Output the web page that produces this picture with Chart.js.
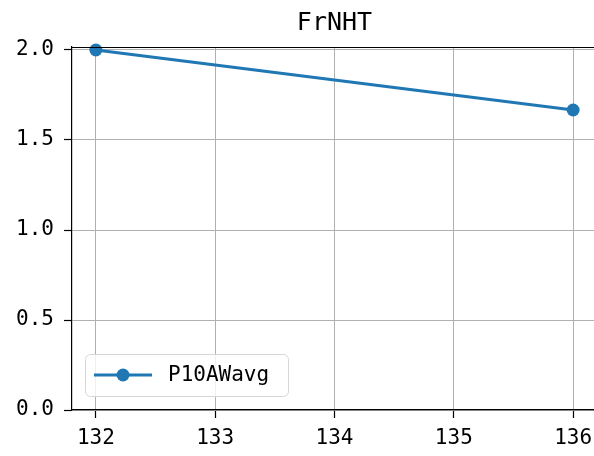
<!DOCTYPE html>
<html>
<head>
<meta charset="utf-8">
<script src="https://cdn.jsdelivr.net/npm/chart.js@4"></script>
<style>
  html, body { margin: 0; padding: 0; background: #fff; overflow: hidden; }
  canvas { display: block; }
</style>
</head>
<body>
<canvas id="chart" width="597" height="456"></canvas>
<script>
// --- data ---
const TITLE = 'FrNHT';
const SERIES_LABEL = 'P10AWavg';
const X_VALUES = [132, 136];
const Y_VALUES = [2.0, 5 / 3];
const X_TICKS = [132, 133, 134, 135, 136];
const Y_TICKS = [0, 0.5, 1.0, 1.5, 2.0];

const FONT = '"DejaVu Sans Mono", "Liberation Mono", monospace';
const LINE_COLOR = '#1f77b4';
const GRID_COLOR = '#b0b0b0';

// title centred over the plot area, plus the top spine
const framePlugin = {
  id: 'frame',
  afterDraw(chart) {
    const { ctx, chartArea: a } = chart;
    ctx.save();
    ctx.strokeStyle = '#000';
    ctx.lineWidth = 1.2;
    ctx.beginPath();
    ctx.moveTo(a.left, a.top + 0.5);
    ctx.lineTo(a.right, a.top + 0.5);
    ctx.stroke();

    ctx.fillStyle = '#000';
    ctx.font = '25px ' + FONT;
    ctx.textAlign = 'center';
    ctx.textBaseline = 'alphabetic';
    ctx.fillText(TITLE, (a.left + a.right) / 2, a.top - 17);
    ctx.restore();
  }
};

// legend box in the lower-left corner of the axes
const legendPlugin = {
  id: 'boxLegend',
  afterDraw(chart) {
    const { ctx, chartArea: a } = chart;
    const ds = chart.data.datasets[0];
    const x = a.left + 13, y = a.bottom - 56, w = 203, h = 42, r = 5;
    ctx.save();
    ctx.fillStyle = 'rgba(255,255,255,0.8)';
    ctx.strokeStyle = '#d6d6d6';
    ctx.lineWidth = 1;
    ctx.beginPath();
    ctx.roundRect(x + 0.5, y + 0.5, w, h, r);
    ctx.fill();
    ctx.stroke();

    const cy = y + h / 2;
    ctx.strokeStyle = ds.borderColor;
    ctx.lineWidth = ds.borderWidth;
    ctx.beginPath();
    ctx.moveTo(x + 9, cy);
    ctx.lineTo(x + 67, cy);
    ctx.stroke();
    ctx.fillStyle = ds.pointBackgroundColor;
    ctx.beginPath();
    ctx.arc(x + 38, cy, ds.pointRadius, 0, Math.PI * 2);
    ctx.fill();

    ctx.fillStyle = '#000';
    ctx.font = '21px ' + FONT;
    ctx.textAlign = 'left';
    ctx.textBaseline = 'middle';
    ctx.fillText(ds.label, x + 83, cy + 1);
    ctx.restore();
  }
};

new Chart(document.getElementById('chart'), {
  type: 'line',
  data: {
    datasets: [{
      label: SERIES_LABEL,
      data: X_VALUES.map((x, i) => ({ x, y: Y_VALUES[i] })),
      borderColor: LINE_COLOR,
      backgroundColor: LINE_COLOR,
      pointBackgroundColor: LINE_COLOR,
      pointBorderWidth: 0,
      borderWidth: 3,
      pointRadius: 6.5,
      tension: 0,
      clip: false,
    }],
  },
  options: {
    responsive: false,
    animation: false,
    layout: { autoPadding: false, padding: { top: 47, right: 0, left: 0, bottom: 0 } },
    plugins: {
      legend: { display: false },
      title: { display: false },
      tooltip: { enabled: false },
    },
    scales: {
      x: {
        type: 'linear',
        min: 131.8,
        max: 136.2,
        afterBuildTicks: s => { s.ticks = X_TICKS.map(v => ({ value: v })); },
        afterFit: s => { s.height = 46; s.paddingLeft = 0; s.paddingRight = 0; },
        grid: { color: GRID_COLOR, lineWidth: 1, tickColor: '#000', tickLength: 8, tickWidth: 1.2 },
        border: { color: '#000', width: 1.2 },
        ticks: { color: '#000', font: { family: FONT, size: 21 }, padding: 8, maxRotation: 0 },
      },
      y: {
        min: 0,
        max: 2.0 + 0.05 * (2.0 - 5 / 3),
        afterBuildTicks: s => { s.ticks = Y_TICKS.map(v => ({ value: v })); },
        afterFit: s => { s.width = 72; s.paddingTop = 0; s.paddingBottom = 0; },
        grid: { color: GRID_COLOR, lineWidth: 1, tickColor: '#000', tickLength: 8, tickWidth: 1.2 },
        border: { color: '#000', width: 1.2 },
        ticks: {
          color: '#000',
          font: { family: FONT, size: 21 },
          padding: 10,
          callback: v => v.toFixed(1),
        },
      },
    },
  },
  plugins: [framePlugin, legendPlugin],
});
</script>
</body>
</html>
